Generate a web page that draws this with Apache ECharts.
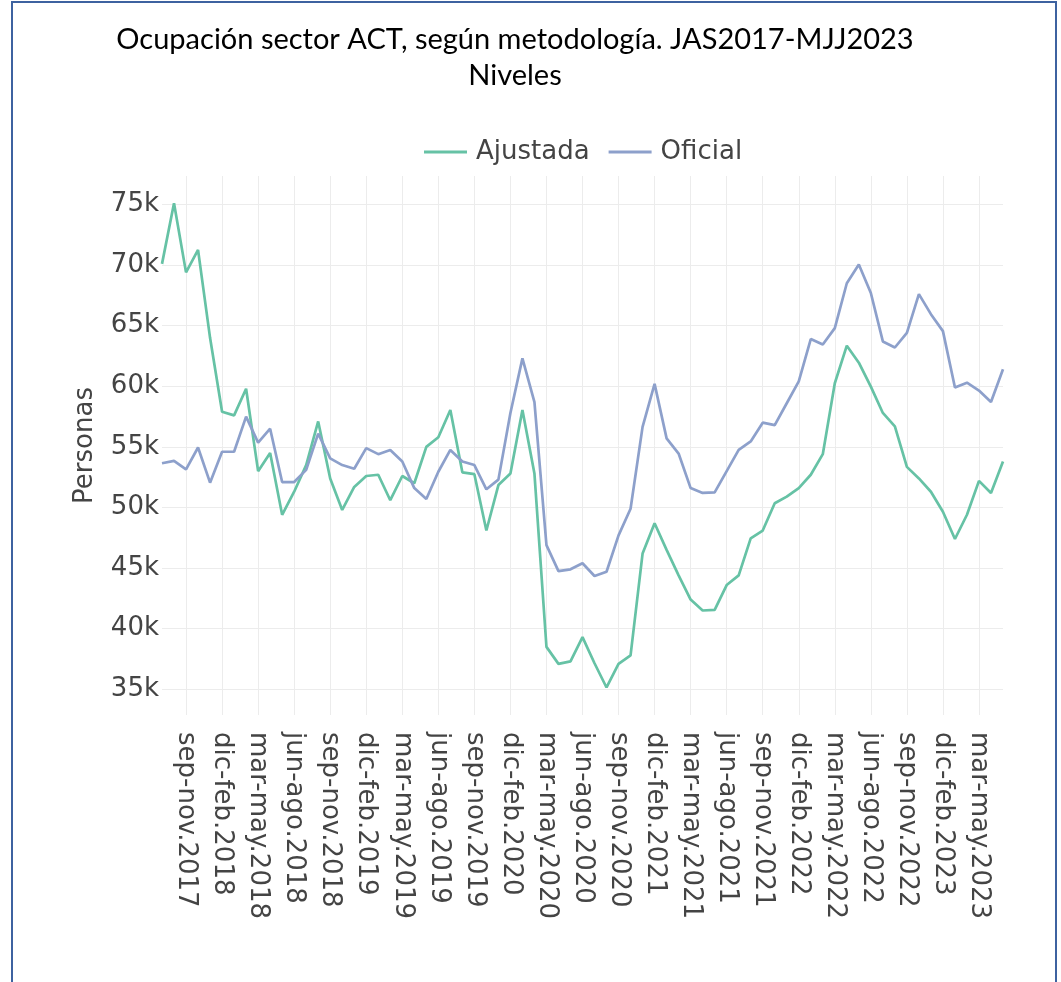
<!DOCTYPE html>
<html>
<head>
<meta charset="utf-8">
<script src="https://cdn.jsdelivr.net/npm/echarts@6/dist/echarts.min.js"></script>
<style>
  html, body { margin: 0; padding: 0; background: #ffffff; }
  #frame {
    position: absolute; left: 11px; top: 1px; width: 1046px; height: 1000px;
    border: 2px solid #3d62a0; box-sizing: border-box;
  }
  #chart { position: absolute; left: 0; top: 0; width: 1061px; height: 982px; }
</style>
</head>
<body>
<div id="frame"></div>
<div id="chart"></div>
<script>
// Trimestres móviles JAS2017 - MJJ2023
const categories = [
  'jul-sep.2017', 'ago-oct.2017', 'sep-nov.2017', 'oct-dic.2017', 'nov-ene.2018', 'dic-feb.2018',
  'ene-mar.2018', 'feb-abr.2018', 'mar-may.2018', 'abr-jun.2018', 'may-jul.2018', 'jun-ago.2018',
  'jul-sep.2018', 'ago-oct.2018', 'sep-nov.2018', 'oct-dic.2018', 'nov-ene.2019', 'dic-feb.2019',
  'ene-mar.2019', 'feb-abr.2019', 'mar-may.2019', 'abr-jun.2019', 'may-jul.2019', 'jun-ago.2019',
  'jul-sep.2019', 'ago-oct.2019', 'sep-nov.2019', 'oct-dic.2019', 'nov-ene.2020', 'dic-feb.2020',
  'ene-mar.2020', 'feb-abr.2020', 'mar-may.2020', 'abr-jun.2020', 'may-jul.2020', 'jun-ago.2020',
  'jul-sep.2020', 'ago-oct.2020', 'sep-nov.2020', 'oct-dic.2020', 'nov-ene.2021', 'dic-feb.2021',
  'ene-mar.2021', 'feb-abr.2021', 'mar-may.2021', 'abr-jun.2021', 'may-jul.2021', 'jun-ago.2021',
  'jul-sep.2021', 'ago-oct.2021', 'sep-nov.2021', 'oct-dic.2021', 'nov-ene.2022', 'dic-feb.2022',
  'ene-mar.2022', 'feb-abr.2022', 'mar-may.2022', 'abr-jun.2022', 'may-jul.2022', 'jun-ago.2022',
  'jul-sep.2022', 'ago-oct.2022', 'sep-nov.2022', 'oct-dic.2022', 'nov-ene.2023', 'dic-feb.2023',
  'ene-mar.2023', 'feb-abr.2023', 'mar-may.2023', 'abr-jun.2023', 'may-jul.2023'
];

// Miles de personas
const ajustada = [
  70.1, 75.1, 69.4, 71.25, 64.0, 57.9, 57.6, 59.8, 53.0, 54.5,
  49.4, 51.3, 53.5, 57.1, 52.4, 49.8, 51.7, 52.6, 52.7, 50.6,
  52.6, 52.0, 55.0, 55.8, 58.05, 52.9, 52.75, 48.1, 51.85, 52.8,
  58.05, 52.8, 38.5, 37.1, 37.3, 39.3, 37.15, 35.15, 37.1, 37.8,
  46.2, 48.7, 46.5, 44.4, 42.4, 41.5, 41.55, 43.6, 44.4, 47.45,
  48.1, 50.35, 50.9, 51.6, 52.7, 54.4, 60.25, 63.35, 61.95, 59.97,
  57.8, 56.7, 53.35, 52.4, 51.3, 49.65, 47.4, 49.4, 52.2, 51.2, 53.8
];

const oficial = [
  53.65, 53.85, 53.15, 54.95, 52.05, 54.6, 54.6, 57.5, 55.35, 56.5,
  52.1, 52.1, 53.1, 56.1, 54.05, 53.5, 53.2, 54.9, 54.4, 54.75,
  53.8, 51.6, 50.7, 52.95, 54.75, 53.8, 53.5, 51.5, 52.3, 57.8,
  62.3, 58.7, 46.9, 44.75, 44.9, 45.4, 44.35, 44.7, 47.7, 49.9,
  56.65, 60.2, 55.7, 54.45, 51.6, 51.2, 51.25, 53.0, 54.75, 55.45,
  57.0, 56.8, 58.6, 60.4, 63.9, 63.45, 64.8, 68.5, 70.05, 67.7,
  63.7, 63.2, 64.4, 67.6, 65.95, 64.55, 59.9, 60.3, 59.65, 58.7, 61.4
];

const chart = echarts.init(document.getElementById('chart'));

const font = 'DejaVu Sans';
const everyThird = (i) => i % 3 === 2;

const option = {
  animation: false,
  title: {
    text: 'Ocupación sector ACT, según metodología. JAS2017-MJJ2023\nNiveles',
    left: 510,
    top: 17,
    textAlign: 'center',
    textStyle: {
      fontFamily: 'Lato',
      fontWeight: 'normal',
      fontSize: 29,
      lineHeight: 36,
      color: '#000000',
    },
  },
  legend: {
    left: 419,
    top: 134,
    itemWidth: 43,
    itemHeight: 3,
    itemGap: 19,
    icon: 'rect',
    textStyle: {
      fontFamily: font,
      fontSize: 26,
      color: '#444444',
      padding: [0, 0, 0, 4],
    },
    data: ['Ajustada', 'Oficial'],
  },
  grid: {
    left: 162,
    right: 58,
    top: 176,
    bottom: 267,
  },
  xAxis: {
    type: 'category',
    data: categories,
    boundaryGap: false,
    axisLine: { show: false },
    axisTick: { show: false },
    axisLabel: {
      interval: everyThird,
      rotate: -90,
      margin: 17,
      padding: [12, 0, 0, 0],
      fontFamily: font,
      fontSize: 26,
      color: '#444444',
    },
    splitLine: {
      show: true,
      interval: everyThird,
      lineStyle: { color: '#ececec', width: 1 },
    },
  },
  yAxis: {
    type: 'value',
    min: 32.88,
    max: 77.35,
    splitNumber: 9,
    name: 'Personas',
    nameLocation: 'middle',
    nameRotate: 90,
    nameGap: 64,
    nameTextStyle: {
      fontFamily: font,
      fontSize: 26,
      color: '#444444',
    },
    axisLine: { show: false },
    axisTick: { show: false },
    axisLabel: {
      margin: 3,
      showMinLabel: false,
      showMaxLabel: false,
      fontFamily: font,
      fontSize: 26,
      color: '#444444',
      formatter: (v) => v + 'k',
    },
    splitLine: {
      show: true,
      showMinLine: false,
      showMaxLine: false,
      lineStyle: { color: '#ececec', width: 1 },
    },
  },
  series: [
    {
      name: 'Ajustada',
      type: 'line',
      data: ajustada,
      symbol: 'none',
      lineStyle: { color: '#66c2a5', width: 2.7 },
      itemStyle: { color: '#66c2a5' },
    },
    {
      name: 'Oficial',
      type: 'line',
      data: oficial,
      symbol: 'none',
      lineStyle: { color: '#8da0cb', width: 2.7 },
      itemStyle: { color: '#8da0cb' },
    },
  ],
};

chart.setOption(option);
</script>
</body>
</html>
